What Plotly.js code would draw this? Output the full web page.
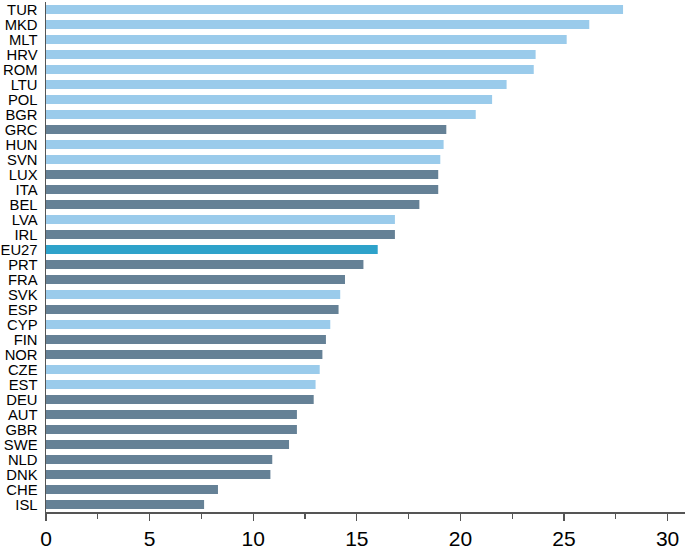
<!DOCTYPE html>
<html>
<head>
<meta charset="utf-8">
<script src="https://cdn.plot.ly/plotly-3.0.1.min.js"></script>
<style>html,body{margin:0;padding:0;background:#fff;}#chart{width:685px;height:549px;}</style>
</head>
<body>
<div id="chart"></div>
<script>
const countries = ["TUR","MKD","MLT","HRV","ROM","LTU","POL","BGR","GRC","HUN","SVN","LUX","ITA","BEL","LVA","IRL","EU27","PRT","FRA","SVK","ESP","CYP","FIN","NOR","CZE","EST","DEU","AUT","GBR","SWE","NLD","DNK","CHE","ISL"];
const values = [27.85,26.22,25.13,23.63,23.54,22.23,21.53,20.74,19.32,19.19,19.03,18.93,18.93,18.02,16.84,16.84,16.01,15.32,14.43,14.20,14.12,13.72,13.51,13.34,13.21,13.01,12.92,12.11,12.11,11.73,10.92,10.83,8.30,7.63];
const groups = ["new","new","new","new","new","new","new","new","old","new","new","old","old","old","new","old","eu","old","old","new","old","new","old","old","new","new","old","old","old","old","old","old","old","old"];
const groupColors = {new:"#9ACBEB", old:"#658196", eu:"#2EA2CA"};
const xTicks = [0,5,10,15,20,25,30];

const trace = {
  type:"bar", orientation:"h",
  x: values, y: countries,
  marker:{color: groups.map(g=>groupColors[g])},
  hoverinfo:"x+y"
};
const layout = {
  width:685, height:549,
  margin:{l:46, r:0, t:2, b:37},
  paper_bgcolor:"#fff", plot_bgcolor:"#fff",
  bargap:0.4,
  showlegend:false,
  font:{family:"Liberation Sans, Arial, sans-serif", color:"#000"},
  xaxis:{
    range:[0,30.84], tickmode:"array", tickvals:xTicks, ticktext:xTicks.map(String),
    showgrid:false, zeroline:false,
    showline:true, linecolor:"#555", linewidth:1.5,
    ticks:"outside", ticklen:7, tickwidth:1.3, tickcolor:"#555",
    minor:{dtick:2.5, tick0:0, ticks:"outside", ticklen:5, tickwidth:1.2, tickcolor:"#555", showgrid:false},
    tickfont:{size:21, color:"#000"}
  },
  yaxis:{
    type:"category", autorange:"reversed",
    tickmode:"array", tickvals:countries, ticktext:countries,
    showgrid:false, zeroline:false,
    showline:true, linecolor:"#555", linewidth:1.5,
    ticks:"outside", ticklen:4, tickcolor:"rgba(0,0,0,0)",
    tickfont:{size:14.8, color:"#000"}
  }
};
Plotly.newPlot("chart",[trace],layout,{displayModeBar:false, staticPlot:true});
</script>
</body>
</html>
